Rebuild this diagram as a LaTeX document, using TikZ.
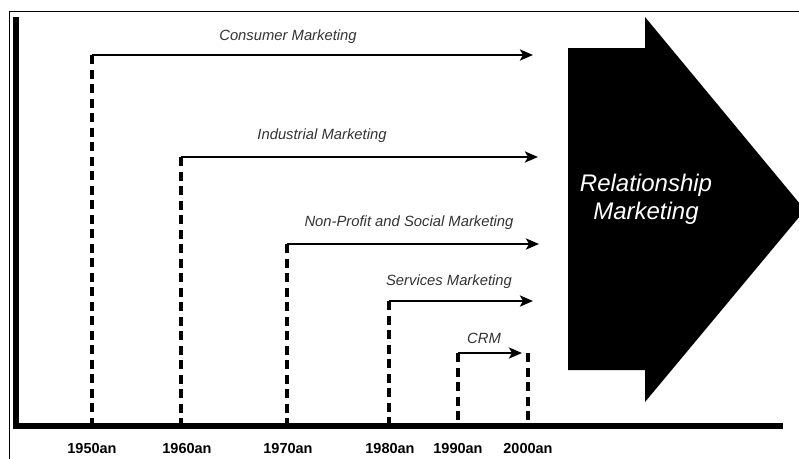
\documentclass[tikz,border=0pt]{standalone}
\usepackage{fontspec}
\setmainfont{Liberation Sans}
\usetikzlibrary{arrows.meta, positioning, calc}

\begin{document}
\begin{tikzpicture}[x=10pt, y=-10pt,
	era/.style={line width=3.2pt, dash pattern=on 9pt off 5.5pt},
	span/.style={line width=2.8pt, -{Stealth[length=13pt, width=11pt, inset=3pt]}},
	spanlabel/.style={font=\fontsize{14.8}{17}\selectfont\itshape, text=black!80},
	year/.style={font=\fontsize{14.5}{16}\selectfont\bfseries}]
	\useasboundingbox (0,0) rectangle (79.9,45.8);

	% frame and the two axes
	\draw [line width=1pt] (0.95,1.15) rectangle (82,48);
	\draw [line width=6pt] (1.6,1.7) -- (1.6,42.6) -- (78.3,42.6);
	\coordinate (base) at (0,42.3);

	% years under the axis
	\foreach \yr/\x in {1950/9.2, 1960/18.7, 1970/28.8, 1980/39.0, 1990/45.8, 2000/52.8}
		\node [year] (y\yr) at (\x,44.8) {\yr an};

	% where each kind of marketing starts and ends
	\coordinate (s50) at (9.2,5.5);   \coordinate (e50) at (53.3,5.5);
	\coordinate (s60) at (18.1,15.7); \coordinate (e60) at (53.8,15.7);
	\coordinate (s70) at (28.7,24.4); \coordinate (e70) at (53.9,24.4);
	\coordinate (s80) at (38.9,30.1); \coordinate (e80) at (53.3,30.1);
	\coordinate (s90) at (45.8,35.3); \coordinate (e90) at (52.2,35.3);
	\coordinate (s00) at (52.8,35.3);

	\draw [era] (s50) -- (s50 |- base);
	\draw [era] (s60) -- (s60 |- base);
	\draw [era] (s70) -- (s70 |- base);
	\draw [era] (s80) -- (s80 |- base);
	\draw [era] (s90) -- (s90 |- base);
	\draw [era] (s00) -- (s00 |- base);

	\draw [span] (s50) -- (e50);
	\draw [span] (s60) -- (e60);
	\draw [span] (s70) -- (e70);
	\draw [span] (s80) -- (e80);
	\draw [span] (s90) -- (e90);

	\node [spanlabel] (consumer) at (28.8,3.7) {Consumer Marketing};
	\node [spanlabel] (industrial) at (32.2,13.6) {Industrial Marketing};
	\node [spanlabel] (nonprofit) at (40.9,22.3) {Non-Profit and Social Marketing};
	\node [spanlabel] (services) at (44.9,28.2) {Services Marketing};
	\node [spanlabel] (crm) at (48.4,33.8) {CRM};

	% the big arrow on the right
	\fill (56.8,4.8) -- (64.5,4.8) -- (64.5,1.7) -- (80.5,21.0) -- (64.5,40.2) -- (64.5,37.0) -- (56.8,37.0) -- cycle;
	\node [align=center, text=white, font=\fontsize{24}{28}\selectfont\itshape] (relationship) at (64.6,19.9) {Relationship\\Marketing};
\end{tikzpicture}
\end{document}
